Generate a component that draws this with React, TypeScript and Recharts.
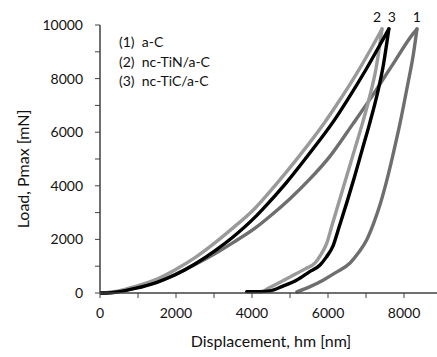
import { LineChart, Line, XAxis, YAxis, ReferenceDot } from "recharts";

// Indentation curves: displacement hm [nm] vs load Pmax [mN]
// (1) a-C
const aCLoadingDisp = [0, 500, 920, 1500, 1970, 2500, 3030, 3500, 4080, 4520, 5000, 5500, 6050, 6660, 7200, 7700, 8240, 8340];
const aCLoadingLoad = [0, 60, 190, 420, 690, 1060, 1470, 1880, 2420, 2920, 3520, 4220, 5100, 6320, 7430, 8520, 9680, 9850];
const aCUnloadingDisp = [8340, 8240, 8100, 7890, 7700, 7550, 7370, 7200, 7020, 6800, 6580, 6200, 5870, 5500, 5180];
const aCUnloadingLoad = [9850, 8850, 7800, 6300, 5100, 4220, 3300, 2600, 1990, 1500, 1120, 760, 480, 220, 40];

// (2) nc-TiN/a-C
const tinLoadingDisp = [0, 500, 920, 1500, 1970, 2500, 3030, 3500, 4000, 4600, 5210, 5920, 6240, 6800, 7370, 7420];
const tinLoadingLoad = [0, 80, 240, 520, 860, 1320, 1880, 2430, 3050, 4000, 5050, 6380, 7050, 8300, 9720, 9850];
const tinUnloadingDisp = [7420, 7260, 7100, 6900, 6700, 6500, 6300, 6100, 5970, 5800, 5660, 5400, 5000, 4600, 4400, 4300];
const tinUnloadingLoad = [9850, 8350, 7350, 6300, 5350, 4400, 3450, 2500, 1870, 1400, 1120, 900, 600, 300, 150, 60];

// (3) nc-TiC/a-C
const ticLoadingDisp = [0, 200, 500, 920, 1500, 1970, 2500, 3030, 3500, 4080, 4290, 4900, 5470, 6180, 6500, 7000, 7580, 7600];
const ticLoadingLoad = [0, 0, 50, 170, 400, 670, 1080, 1580, 2090, 2830, 3140, 4110, 5130, 6480, 7180, 8340, 9800, 9850];
const ticUnloadingDisp = [7600, 7450, 7300, 7100, 6900, 6700, 6500, 6300, 6130, 5950, 5790, 5500, 5180, 4800, 4470, 4200, 3860];
const ticUnloadingLoad = [9850, 8450, 7450, 6350, 5350, 4350, 3400, 2500, 1750, 1330, 1045, 780, 485, 250, 80, 50, 50];

const legendLabels = ["(1)  a-C", "(2)  nc-TiN/a-C", "(3)  nc-TiC/a-C"];
const peakLabels = ["1", "2", "3"];
const xTicks = [0, 1000, 2000, 3000, 4000, 5000, 6000, 7000, 8000];
const yTicks = [0, 1000, 2000, 3000, 4000, 5000, 6000, 7000, 8000, 9000, 10000];

const toPoints = (xs: number[], ys: number[]) =>
  xs.map((x, i) => ({ x, y: ys[i] })).sort((a, b) => a.x - b.x);

const series = [
  { name: "a-C", loading: toPoints(aCLoadingDisp, aCLoadingLoad), unloading: toPoints(aCUnloadingDisp, aCUnloadingLoad), color: "#6e6e6e", dx: 0 },
  { name: "nc-TiN/a-C", loading: toPoints(tinLoadingDisp, tinLoadingLoad), unloading: toPoints(tinUnloadingDisp, tinUnloadingLoad), color: "#9a9a9a", dx: -5 },
  { name: "nc-TiC/a-C", loading: toPoints(ticLoadingDisp, ticLoadingLoad), unloading: toPoints(ticUnloadingDisp, ticUnloadingLoad), color: "#000000", dx: 3 },
];

const font = "Lato, 'Open Sans', sans-serif";
const axisColor = "#404040";
const showEven = (v: number) => (v % 2000 === 0 ? String(v) : "");

export default function App() {
  return (
    <div style={{ position: "absolute", left: 0, top: 0, width: 437, height: 357, fontFamily: font, background: "#fff" }}>
      <LineChart width={437} height={357} margin={{ top: 25, right: 0, left: 0, bottom: 0 }}>
        <XAxis
          type="number"
          dataKey="x"
          domain={[0, 8868]}
          ticks={xTicks}
          tickFormatter={showEven}
          allowDataOverflow
          height={64}
          tickSize={5}
          tickMargin={10}
          axisLine={{ stroke: axisColor, strokeWidth: 1.5 }}
          tickLine={{ stroke: axisColor }}
          tick={{ fill: "#111", fontSize: 14, fontFamily: font }}
          label={{
            content: ({ viewBox }: any) => (
              <text x={271} y={viewBox.y + 47} textAnchor="middle" dominantBaseline="central"
                fill="#111" fontSize={16} fontFamily={font}>
                Displacement,  hm [nm]
              </text>
            ),
          }}
        />
        <YAxis
          type="number"
          dataKey="y"
          domain={[0, 10000]}
          ticks={yTicks}
          tickFormatter={showEven}
          width={100}
          tickSize={5}
          tickMargin={12}
          axisLine={{ stroke: axisColor, strokeWidth: 1.5 }}
          tickLine={{ stroke: axisColor }}
          tick={{ fill: "#111", fontSize: 14, fontFamily: font }}
          label={{
            content: () => (
              <text x={22} y={169} transform="rotate(-90, 22, 169)" textAnchor="middle" dominantBaseline="central"
                fill="#111" fontSize={16} fontFamily={font}>
                Load,  Pmax [mN]
              </text>
            ),
          }}
        />
        {series.flatMap((s) => [
          <Line key={s.name + "-load"} data={s.loading} dataKey="y" type="monotoneX" stroke={s.color}
            strokeWidth={3.4} strokeLinejoin="round" strokeLinecap="round" dot={false} isAnimationActive={false} />,
          <Line key={s.name + "-unload"} data={s.unloading} dataKey="y" type="monotoneX" stroke={s.color}
            strokeWidth={3.4} strokeLinejoin="round" strokeLinecap="round" dot={false} isAnimationActive={false} />,
        ])}
        {series.map((s, i) => {
          const peak = s.loading.reduce((a, b) => (b.y > a.y ? b : a));
          return (
            <ReferenceDot
              key={"peak" + i}
              x={peak.x}
              y={peak.y}
              r={0}
              label={{ value: peakLabels[i], position: "top", offset: 7, dx: s.dx, fill: "#111", fontSize: 14, fontFamily: font }}
            />
          );
        })}
      </LineChart>
      <div style={{ position: "absolute", left: 119, top: 32, fontSize: 14, lineHeight: "19.5px", color: "#111" }}>
        {legendLabels.map((l) => (
          <div key={l} style={{ whiteSpace: "pre" }}>{l}</div>
        ))}
      </div>
    </div>
  );
}
